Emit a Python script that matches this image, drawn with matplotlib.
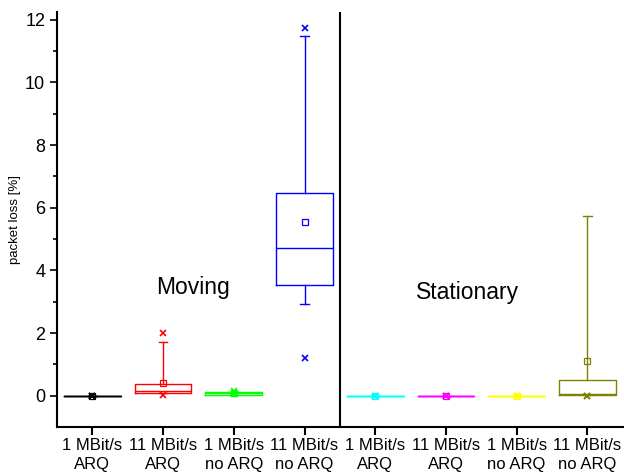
import matplotlib
matplotlib.use("Agg")
import matplotlib.pyplot as plt

plt.rcParams['font.family'] = ['Liberation Sans', 'DejaVu Sans']

labels = ["1 MBit/s\nARQ", "11 MBit/s\nARQ", "1 MBit/s\nno ARQ", "11 MBit/s\nno ARQ",
          "1 MBit/s\nARQ", "11 MBit/s\nARQ", "1 MBit/s\nno ARQ", "11 MBit/s\nno ARQ"]
colors = ["black", "#ff0000", "#00ff00", "#0000ff", "#00ffff", "#ff00ff", "#ffff00", "#808000"]
q1 = [0, 0.10, 0.02, 3.54, 0, 0, 0, 0.03]
med = [0, 0.15, 0.08, 4.72, 0, 0, 0, 0.05]
q3 = [0, 0.37, 0.13, 6.47, 0, 0, 0, 0.50]
whislo = [0, 0.10, 0.02, 2.94, 0, 0, 0, 0.03]
whishi = [0, 1.70, 0.13, 11.47, 0, 0, 0, 5.75]
means = [0, 0.40, 0.10, 5.55, 0, 0, 0, 1.10]
vmin = [0, 0.03, 0.04, 1.20, 0, 0, 0, 0.0]
vmax = [0, 2.00, 0.15, 11.75, 0, 0, 0, 0.0]
group_names = ["Moving", "Stationary"]

fig = plt.figure(figsize=(6.24, 4.72), dpi=100)
ax = fig.add_axes([0.0913, 0.0953, 0.9067, 0.8793])

for i in range(len(labels)):
    c = colors[i]
    stats = [dict(q1=q1[i], med=med[i], q3=q3[i], whislo=whislo[i], whishi=whishi[i],
                  mean=means[i], fliers=[])]
    ax.bxp(stats, positions=[i + 1], widths=0.8, showmeans=True, showfliers=False,
           capwidths=0.12,
           boxprops=dict(color=c, lw=1.0),
           medianprops=dict(color=c, lw=1.0),
           whiskerprops=dict(color=c, lw=1.0),
           capprops=dict(color=c, lw=1.0),
           meanprops=dict(marker='s', markerfacecolor='none', markeredgecolor=c,
                          markersize=4, markeredgewidth=0.9))
    ax.plot([i + 1, i + 1], [vmin[i], vmax[i]], linestyle='none', marker='x',
            color=c, markersize=5, markeredgewidth=1.2)

ax.axvline(4.5, color='black', lw=1.5)
ax.text(2.42, 3.45, group_names[0], fontsize=16.5, ha='center', va='center')
ax.text(6.3, 3.3, group_names[1], fontsize=16.5, ha='center', va='center')

ax.set_xlim(0.5, 8.5)
ax.set_ylim(-1, 12.25)
ax.set_xticks(range(1, 9))
ax.set_xticklabels(labels, fontsize=12, linespacing=1.35)
ax.set_yticks([0, 2, 4, 6, 8, 10, 12])
ax.set_yticks([1, 3, 5, 7, 9, 11], minor=True)
ax.tick_params(axis='y', which='major', labelsize=13, length=5, width=1.2, direction='out')
ax.tick_params(axis='y', which='minor', length=3, width=1.2, direction='out')
ax.tick_params(axis='x', which='major', length=6, width=1.5, direction='out', pad=2)
ax.set_ylabel("packet loss [%]", fontsize=9.5, labelpad=3)
ax.spines['top'].set_visible(False)
ax.spines['right'].set_visible(False)
ax.spines['left'].set_linewidth(1.5)
ax.spines['bottom'].set_linewidth(1.5)

fig.savefig("out.png", dpi=100)
